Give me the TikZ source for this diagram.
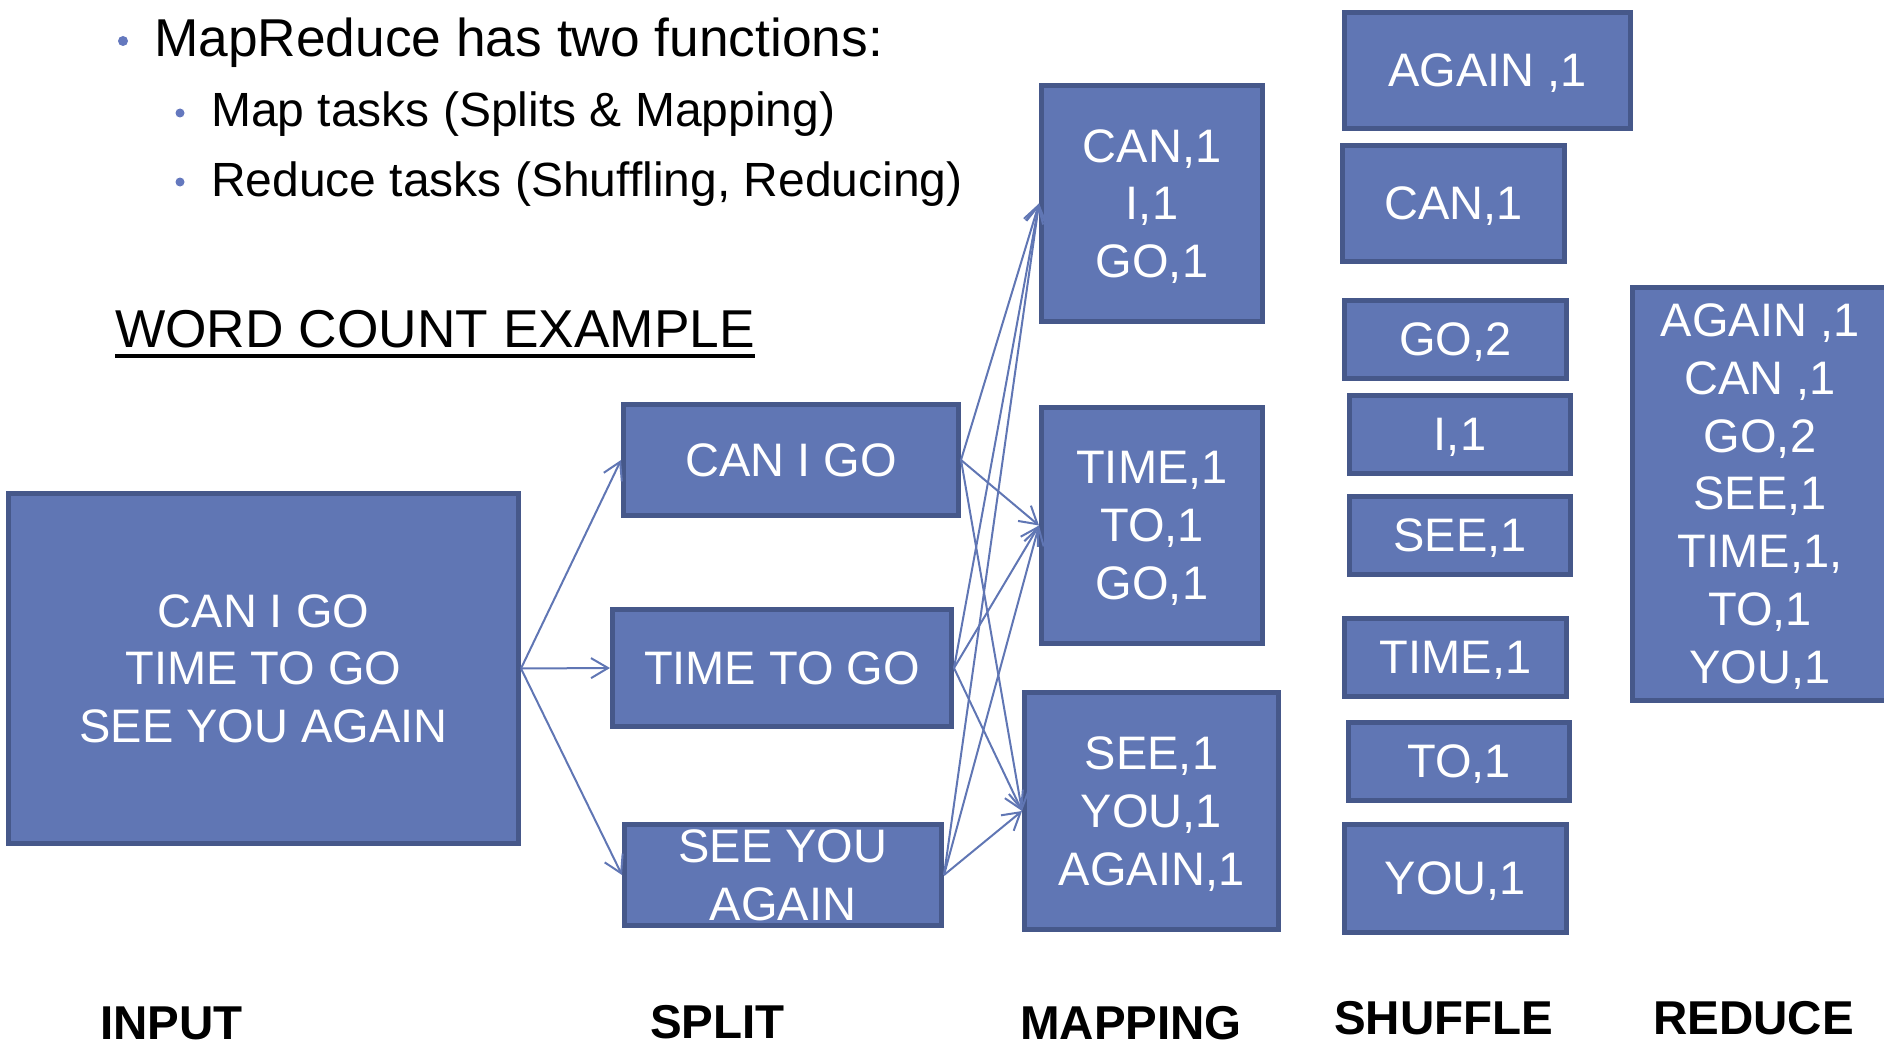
\documentclass[tikz,border=0pt]{standalone}
\usepackage{fontspec}
\setmainfont{Liberation Sans}
\usetikzlibrary{arrows.meta}

\definecolor{boxfill}{RGB}{96,118,180}
\definecolor{boxline}{RGB}{70,88,138}
\definecolor{dotblue}{RGB}{100,120,190}

\newcommand{\boxfont}{\fontsize{47}{57.7}\selectfont}
\newcommand{\headfont}{\fontsize{53.3}{60}\selectfont}
\newcommand{\subfont}{\fontsize{48}{56}\selectfont}
\newcommand{\stagefont}{\fontsize{47.5}{56}\selectfont\bfseries}

\tikzset{
	box/.style={draw=boxline, fill=boxfill, line width=5pt, text=white, font=\boxfont,
		align=center, inner sep=0pt, text depth=-7pt},
	link/.style={draw=boxfill, line width=2pt, -{Straight Barb[length=17pt,width=20pt]}},
	head/.style={font=\headfont, anchor=base west, inner sep=0pt},
	subhead/.style={font=\subfont, anchor=base west, inner sep=0pt},
	stage/.style={font=\stagefont, anchor=base west, inner sep=0pt},
	dot/.style={circle, fill=dotblue, inner sep=0pt}
}

\begin{document}
\begin{tikzpicture}[x=1pt,y=-1pt]
	\useasboundingbox (0,0) rectangle (1884,1046);

	% bullet text
	\node [dot, minimum size=10pt] (d1) at (123,41) {};
	\node [dot, minimum size=9pt] (d2) at (180,113) {};
	\node [dot, minimum size=9pt] (d3) at (180,182) {};
	\node [head] (t1) at (154,57) {MapReduce has two functions:};
	\node [subhead] (t2) at (211,127) {Map tasks (Splits \& Mapping)};
	\node [subhead] (t3) at (211,196) {Reduce tasks (Shuffling, Reducing)};

	\node [head] (title) at (115,347) {WORD COUNT EXAMPLE};
	\draw [line width=3.3pt] ([yshift=-9pt]title.base west) -- ([yshift=-9pt]title.base east);

	% input
	\node [box, minimum width=510pt, minimum height=350pt] (in) at (263.5,668.5)
		{CAN I GO \\ TIME TO GO \\ SEE YOU AGAIN};

	% split
	\node [box, minimum width=335pt, minimum height=111pt] (s1) at (791,460) {CAN I GO};
	\node [box, minimum width=339pt, minimum height=117pt] (s2) at (782,668) {TIME TO GO};
	\node [box, minimum width=317pt, minimum height=101pt] (s3) at (783,875) {SEE YOU \\ AGAIN};

	% mapping
	\node [box, minimum width=221pt, minimum height=236pt] (m1) at (1152,203.5) {CAN,1 \\ I,1 \\ GO,1};
	\node [box, minimum width=221pt, minimum height=236pt] (m2) at (1152,525.5) {TIME,1 \\ TO,1 \\ GO,1};
	\node [box, minimum width=254pt, minimum height=237pt] (m3) at (1151.5,811) {SEE,1 \\ YOU,1 \\ AGAIN,1};

	% shuffle
	\node [box, minimum width=286pt, minimum height=116pt] (sh1) at (1487.5,70.5) {AGAIN ,1};
	\node [box, minimum width=222pt, minimum height=116pt] (sh2) at (1453.5,203.5) {CAN,1};
	\node [box, minimum width=222pt, minimum height=78pt] (sh3) at (1455.5,339.5) {GO,2};
	\node [box, minimum width=221pt, minimum height=78pt] (sh4) at (1460,434.5) {I,1};
	\node [box, minimum width=221pt, minimum height=78pt] (sh5) at (1460,535.5) {SEE,1};
	\node [box, minimum width=222pt, minimum height=78pt] (sh6) at (1455.5,657.5) {TIME,1};
	\node [box, minimum width=221pt, minimum height=78pt] (sh7) at (1459,761.5) {TO,1};
	\node [box, minimum width=222pt, minimum height=108pt] (sh8) at (1455.5,878.5) {YOU,1};

	% reduce
	\node [box, minimum width=256pt, minimum height=413pt] (red) at (1760,493.5)
		{AGAIN ,1 \\ CAN ,1 \\ GO,2 \\ SEE,1 \\ TIME,1, \\ TO,1 \\ YOU,1};

	% connectors
	\foreach \s in {s1,s2,s3}
		\draw [link] (in.east) -- (\s.west);
	\foreach \s in {s1,s2,s3}
		\foreach \m in {m1,m2,m3}
			\draw [link] (\s.east) -- (\m.west);

	% stage labels
	\node [stage] (l1) at (100,1039) {INPUT};
	\node [stage] (l2) at (650,1038) {SPLIT};
	\node [stage] (l3) at (1020,1039) {MAPPING};
	\node [stage] (l4) at (1334,1034) {SHUFFLE};
	\node [stage] (l5) at (1653,1034) {REDUCE};
\end{tikzpicture}
\end{document}
